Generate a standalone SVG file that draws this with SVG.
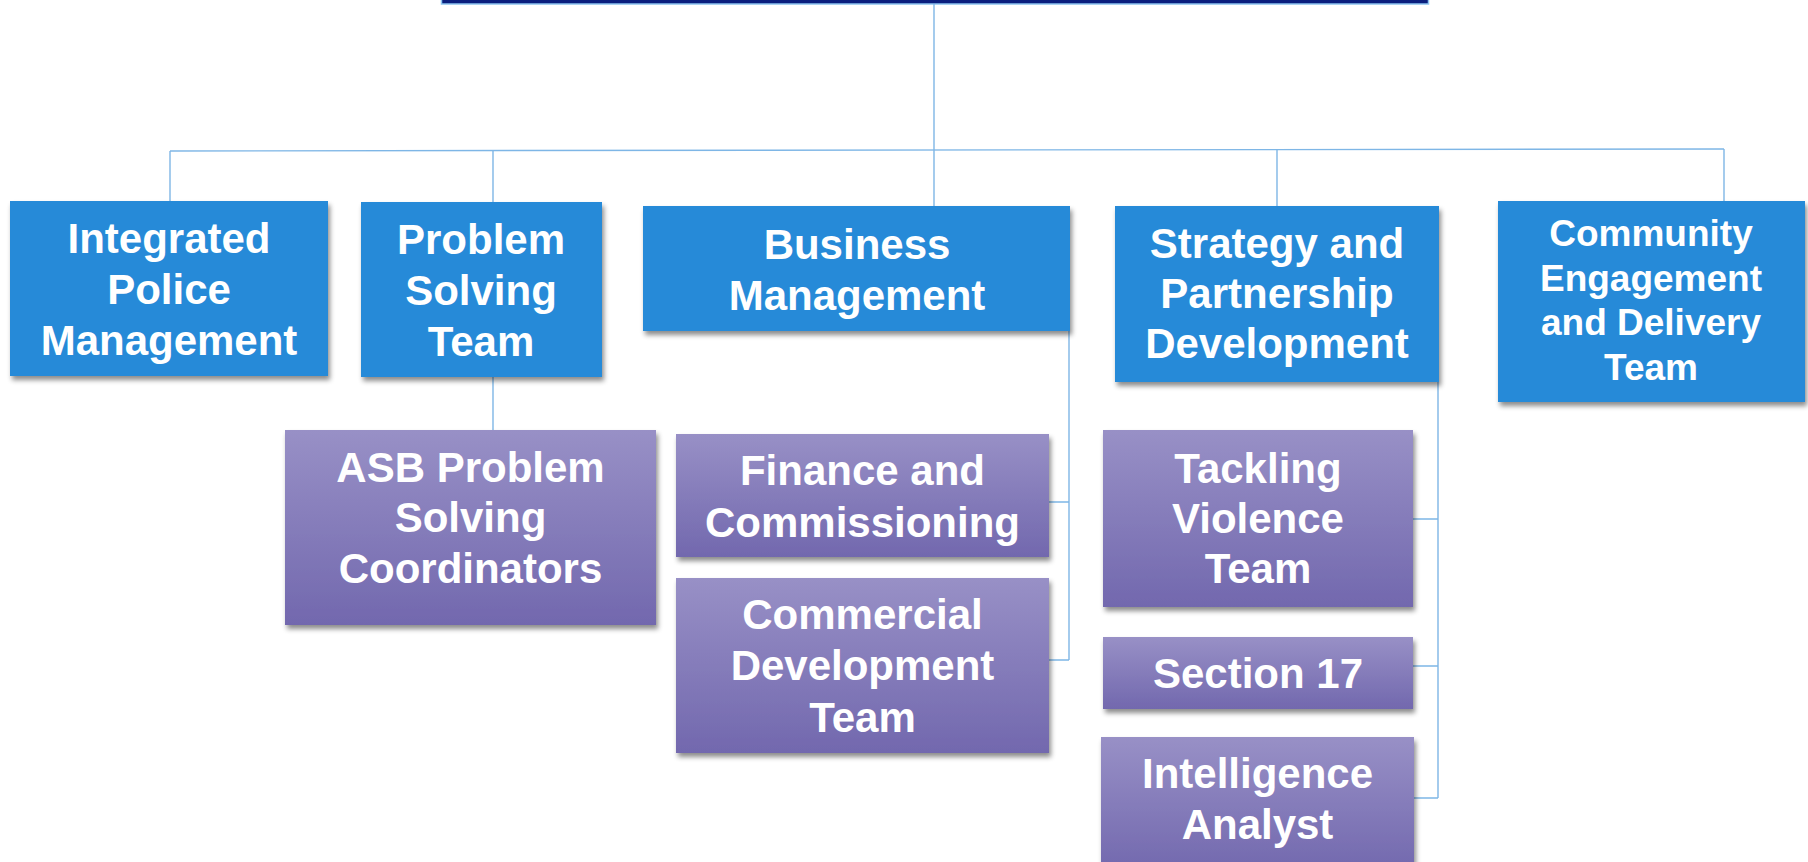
<svg xmlns="http://www.w3.org/2000/svg" width="1808" height="862" viewBox="0 0 1808 862">
<defs>
<linearGradient id="purp" x1="0" y1="0" x2="0" y2="1">
<stop offset="0" stop-color="#9890C6"/>
<stop offset="1" stop-color="#7268AE"/>
</linearGradient>
<filter id="sh" x="-10%" y="-10%" width="120%" height="130%">
<feDropShadow dx="2" dy="4" stdDeviation="2.5" flood-color="#000" flood-opacity="0.45"/>
</filter>
</defs>
<style>
.blue{fill:#258AD8;filter:url(#sh)}
.purple{fill:url(#purp);filter:url(#sh)}
text{font-family:"Liberation Sans",Arial,sans-serif;font-weight:bold;fill:#fff;text-anchor:middle;font-size:42px}
.sm{font-size:37px}
.conn{stroke:#7EB6E6;stroke-width:1.4;fill:none}
</style>
<rect width="1808" height="862" fill="#fff"/>
<g id="top-bar">
<rect x="441.5" y="-10" width="987" height="14" fill="#0A1E7E" stroke="#8CC4F0" stroke-width="1.5"/>
</g>
<g id="connectors">
<path class="conn" d="M934,4 V150"/>
<path class="conn" d="M170,151 L1724,149"/>
<path class="conn" d="M170,151 V202"/>
<path class="conn" d="M493,151 V202"/>
<path class="conn" d="M934,150 V206"/>
<path class="conn" d="M1277,149 V206"/>
<path class="conn" d="M1724,149 V201"/>
<path class="conn" d="M493,377 V430"/>
<path class="conn" d="M1069,331 V660 M1049,502 H1069 M1049,660 H1069"/>
<path class="conn" d="M1438,377 V798 M1413,519 H1438 M1413,666 H1438 M1414,798 H1438"/>
</g>
<g id="integrated-police-management">
<rect class="blue" x="10" y="201" width="318" height="175"/>
<text x="169" y="253">Integrated</text>
<text x="169" y="304">Police</text>
<text x="169" y="355">Management</text>
</g>
<g id="problem-solving-team">
<rect class="blue" x="361" y="202" width="241" height="175"/>
<text x="481" y="254">Problem</text>
<text x="481" y="305">Solving</text>
<text x="481" y="356">Team</text>
</g>
<g id="business-management">
<rect class="blue" x="643" y="206" width="427" height="125"/>
<text x="857" y="259">Business</text>
<text x="857" y="310">Management</text>
</g>
<g id="strategy-partnership-development">
<rect class="blue" x="1115" y="206" width="324" height="176"/>
<text x="1277" y="258">Strategy and</text>
<text x="1277" y="308">Partnership</text>
<text x="1277" y="358">Development</text>
</g>
<g id="community-engagement-delivery-team">
<rect class="blue" x="1498" y="201" width="307" height="201"/>
<text class="sm" x="1651" y="246">Community</text>
<text class="sm" x="1651" y="291">Engagement</text>
<text class="sm" x="1651" y="335">and Delivery</text>
<text class="sm" x="1651" y="380">Team</text>
</g>
<g id="asb-problem-solving-coordinators">
<rect class="purple" x="285" y="430" width="371" height="195"/>
<text x="470.5" y="482">ASB Problem</text>
<text x="470.5" y="532">Solving</text>
<text x="470.5" y="583">Coordinators</text>
</g>
<g id="finance-commissioning">
<rect class="purple" x="676" y="434" width="373" height="123"/>
<text x="862.5" y="485">Finance and</text>
<text x="862.5" y="537">Commissioning</text>
</g>
<g id="commercial-development-team">
<rect class="purple" x="676" y="578" width="373" height="175"/>
<text x="862.5" y="629">Commercial</text>
<text x="862.5" y="680">Development</text>
<text x="862.5" y="732">Team</text>
</g>
<g id="tackling-violence-team">
<rect class="purple" x="1103" y="430" width="310" height="177"/>
<text x="1258" y="483">Tackling</text>
<text x="1258" y="533">Violence</text>
<text x="1258" y="583">Team</text>
</g>
<g id="section-17">
<rect class="purple" x="1103" y="637" width="310" height="72"/>
<text x="1258" y="688">Section 17</text>
</g>
<g id="intelligence-analyst">
<rect class="purple" x="1101" y="737" width="313" height="135"/>
<text x="1257.5" y="788">Intelligence</text>
<text x="1257.5" y="839">Analyst</text>
</g>
</svg>
